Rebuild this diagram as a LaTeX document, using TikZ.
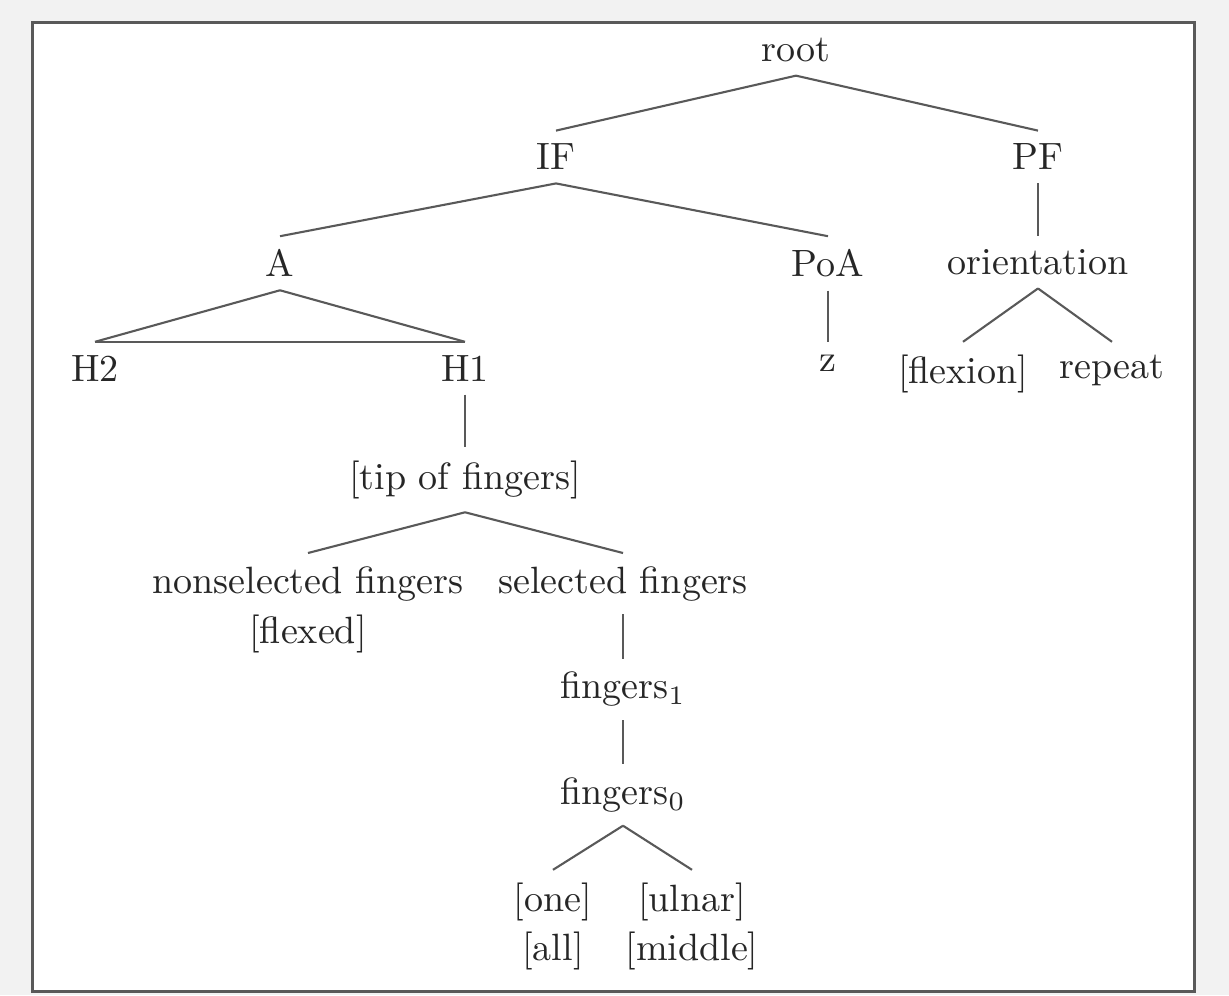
\documentclass[tikz,border=0pt]{standalone}
\usepackage{amsmath}
\usepackage{tikz}
\usetikzlibrary{backgrounds}
\tikzstyle{tnode}=[anchor=north, text=black!85, inner sep=3.33pt]
\tikzstyle{stacked}=[anchor=north, text=black!85, inner sep=3.33pt, align=center]
\tikzstyle{branch}=[-, draw=black!65, line width=0.55pt]
\tikzstyle{frame}=[draw=black!65, line width=0.8pt, fill=white]
\pgfdeclarelayer{framelayer}
\pgfdeclarelayer{edgelayer}
\pgfdeclarelayer{nodelayer}
\pgfsetlayers{framelayer,edgelayer,nodelayer,main}

\begin{document}
\begin{tikzpicture}[x=0.263pt, y=-0.263pt]
            \begin{pgfonlayer}{framelayer}
                \useasboundingbox [fill=black!5] (0, 0) rectangle (1229, 995);
                \draw [style=frame] (32.5, 22.5) rectangle (1194.5, 991.5);
            \end{pgfonlayer}
            \begin{pgfonlayer}{nodelayer}
                \node [style=tnode] (root) at (796, 25) {root};
                \node [style=tnode] (IF) at (556, 130.6) {IF};
                \node [style=tnode] (PF) at (1038, 130.6) {PF};
                \node [style=tnode] (A) at (280, 236.2) {A};
                \node [style=tnode] (PoA) at (828, 236.2) {PoA};
                \node [style=tnode] (orient) at (1038, 236.2) {orientation};
                \node [style=tnode] (H2) at (95, 341.8) {H2};
                \node [style=tnode] (H1) at (465, 341.8) {H1};
                \node [style=tnode] (z) at (828, 341.8) {z};
                \node [style=tnode] (flexion) at (963, 341.8) {[flexion]};
                \node [style=tnode] (repeat) at (1112, 341.8) {repeat};
                \node [style=tnode] (tip) at (465, 447.4) {[tip of fingers]};
                \node [style=stacked] (nonsel) at (308, 553) {nonselected fingers\\[1.2pt] [flexed]};
                \node [style=tnode] (sel) at (623, 553) {selected fingers};
                \node [style=tnode] (fing1) at (623, 658.6) {fingers$_1$};
                \node [style=tnode] (fing0) at (623, 764.2) {fingers$_0$};
                \node [style=stacked] (one) at (553, 869.8) {[one]\\[0.8pt] [all]};
                \node [style=stacked] (ulnar) at (692, 869.8) {[ulnar]\\[0.8pt] [middle]};
            \end{pgfonlayer}
            \begin{pgfonlayer}{edgelayer}
                \draw [style=branch] (root.south) to (IF.north);
                \draw [style=branch] (root.south) to (PF.north);
                \draw [style=branch] (IF.south) to (A.north);
                \draw [style=branch] (IF.south) to (PoA.north);
                \draw [style=branch] (PF.south) to (orient.north);
                \draw [style=branch] (A.south) to (H2.north);
                \draw [style=branch] (A.south) to (H1.north);
                \draw [style=branch] (H2.north) to (H1.north);
                \draw [style=branch] (PoA.south) to (z.north);
                \draw [style=branch] (orient.south) to (flexion.north);
                \draw [style=branch] (orient.south) to (repeat.north);
                \draw [style=branch] (H1.south) to (tip.north);
                \draw [style=branch] (tip.south) to (nonsel.north);
                \draw [style=branch] (tip.south) to (sel.north);
                \draw [style=branch] (sel.south) to (fing1.north);
                \draw [style=branch] (fing1.south) to (fing0.north);
                \draw [style=branch] (fing0.south) to (one.north);
                \draw [style=branch] (fing0.south) to (ulnar.north);
            \end{pgfonlayer}
        \end{tikzpicture}
\end{document}
